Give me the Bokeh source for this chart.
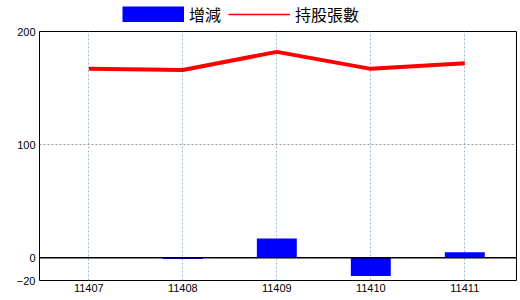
from bokeh.plotting import figure
from bokeh.layouts import column
from bokeh.models import FixedTicker, Range1d, Span, Legend, LegendItem
from bokeh.embed import file_html
from bokeh.resources import INLINE

categories = ["11407", "11408", "11409", "11410", "11411"]
change = [0, -1, 17, -16, 5]
holdings = [167, 166, 182, 167, 172]
y_ticks = [-20, 0, 100, 200]
bar_label = "增減"
line_label = "持股張數"

xs = list(range(len(categories)))
nan = float("nan")

# ---- legend strip above the chart ----
top = figure(width=520, height=26, output_backend="svg", toolbar_location=None,
             x_range=Range1d(0, 1), y_range=Range1d(0, 1),
             x_axis_type=None, y_axis_type=None, min_border=0)
top.outline_line_color = None
top.background_fill_color = "white"
top.border_fill_color = "white"
# legend-only proxies (NaN data, draw nothing)
bar_swatch = top.line(x=[nan, nan], y=[nan, nan], line_color="#0000ff", line_width=16, line_cap="butt")
legend_line = top.line(x=[nan, nan], y=[nan, nan], line_color="#ff0000", line_width=1.5)
legend = Legend(items=[LegendItem(label=bar_label, renderers=[bar_swatch]),
                       LegendItem(label=line_label, renderers=[legend_line])],
                location=(83, 0), orientation="horizontal",
                glyph_width=62, glyph_height=16, label_standoff=5,
                padding=0, margin=0, spacing=7,
                border_line_color=None, background_fill_alpha=0,
                label_text_font="Noto Sans CJK TC", label_text_font_size="16px",
                label_text_color="black", label_height=16)
top.add_layout(legend, "center")

# ---- main chart ----
p = figure(width=520, height=274, output_backend="svg", toolbar_location=None,
           x_range=Range1d(-0.525, 4.55), y_range=Range1d(-20, 200),
           min_border_left=39, min_border_right=4, min_border_top=5, min_border_bottom=20)
p.background_fill_color = "white"
p.border_fill_color = "white"
p.outline_line_color = "black"
p.outline_line_width = 1

bars = p.vbar(x=xs, top=change, bottom=0, width=0.425, fill_color="#0000ff", line_color=None)
p.add_layout(Span(location=0, dimension="width", line_color="black", line_width=1.5))
line = p.line(x=xs, y=holdings, line_color="#ff0000", line_width=4)

for ax in (p.xaxis[0], p.yaxis[0]):
    ax.axis_line_color = None
    ax.major_tick_in = 0
    ax.major_tick_out = 0
    ax.minor_tick_line_color = None
    ax.major_label_text_font = "Liberation Sans"
    ax.major_label_text_font_size = "11px"
    ax.major_label_text_color = "black"

p.xaxis.ticker = FixedTicker(ticks=xs)
p.xaxis.major_label_overrides = {i: c for i, c in enumerate(categories)}
p.xaxis.major_label_standoff = 3
p.yaxis.ticker = FixedTicker(ticks=y_ticks)
p.yaxis.major_label_standoff = 4

p.xgrid.ticker = FixedTicker(ticks=xs)
p.xgrid.grid_line_color = "#9ab8cc"
p.xgrid.grid_line_dash = "2 2"
p.xgrid.grid_line_width = 1
p.ygrid.ticker = FixedTicker(ticks=[100])
p.ygrid.grid_line_color = "#999999"
p.ygrid.grid_line_dash = "2 2"
p.ygrid.grid_line_width = 1

layout = column(top, p, spacing=0)
open("out.html", "w").write(file_html(layout, INLINE))
